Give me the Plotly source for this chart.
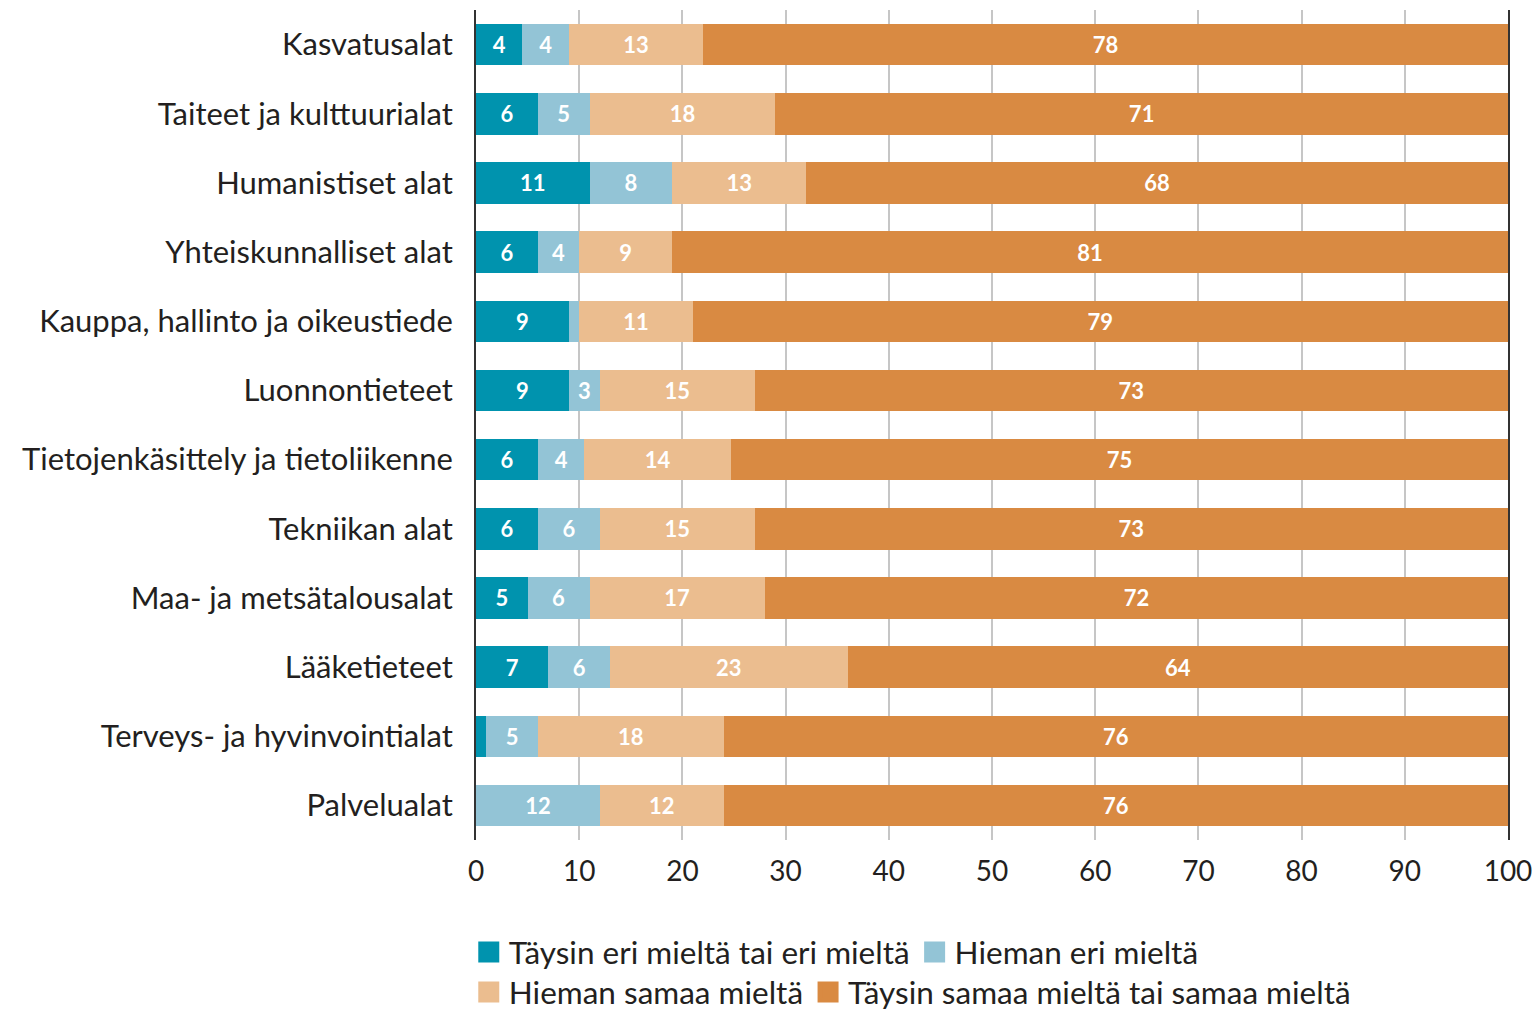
import plotly.graph_objects as go

categories = [
    "Kasvatusalat",
    "Taiteet ja kulttuurialat",
    "Humanistiset alat",
    "Yhteiskunnalliset alat",
    "Kauppa, hallinto ja oikeustiede",
    "Luonnontieteet",
    "Tietojenkäsittely ja tietoliikenne",
    "Tekniikan alat",
    "Maa- ja metsätalousalat",
    "Lääketieteet",
    "Terveys- ja hyvinvointialat",
    "Palvelualat",
]

series_names = [
    "Täysin eri mieltä tai eri mieltä",
    "Hieman eri mieltä",
    "Hieman samaa mieltä",
    "Täysin samaa mieltä tai samaa mieltä",
]

disagree = [4.5, 6, 11, 6, 9, 9, 6, 6, 5, 7, 1, 0]
slightly_disagree = [4.5, 5, 8, 4, 1, 3, 4.5, 6, 6, 6, 5, 12]
slightly_agree = [13, 18, 13, 9, 11, 15, 14.2, 15, 17, 23, 18, 12]
agree = [78, 71, 68, 81, 79, 73, 75.3, 73, 72, 64, 76, 76]

disagree_labels = ["4", "6", "11", "6", "9", "9", "6", "6", "5", "7", "", ""]
slightly_disagree_labels = ["4", "5", "8", "4", "", "3", "4", "6", "6", "6", "5", "12"]
slightly_agree_labels = ["13", "18", "13", "9", "11", "15", "14", "15", "17", "23", "18", "12"]
agree_labels = ["78", "71", "68", "81", "79", "73", "75", "73", "72", "64", "76", "76"]

colors = ["#0093ae", "#93c4d6", "#ebbd8f", "#d98a42"]
legend_ids = ["legend", "legend", "legend2", "legend2"]

FONT = "Lato"
TEXT_COLOR = "#231f20"

fig = go.Figure()
for name, vals, labels, col in zip(
    series_names,
    [disagree, slightly_disagree, slightly_agree, agree],
    [disagree_labels, slightly_disagree_labels, slightly_agree_labels, agree_labels],
    colors,
):
    fig.add_trace(go.Bar(
        y=categories, x=vals, name=name, orientation="h",
        marker=dict(color=col, line=dict(width=0)),
        text=labels, textposition="inside", insidetextanchor="middle",
        textangle=0, constraintext="none",
        textfont=dict(color="white", size=22, family=FONT, weight="bold"),
        hoverinfo="x+y+name", showlegend=False,
    ))

# legend entries (square swatches)
for name, col, lg in zip(series_names, colors, legend_ids):
    fig.add_trace(go.Scatter(
        x=[None], y=[None], mode="markers", name=name,
        marker=dict(symbol="square", size=16, color=col,
                    line=dict(color=col, width=5)),
        legend=lg, showlegend=True, hoverinfo="skip",
    ))

legend_common = dict(
    orientation="h", xanchor="left", yanchor="middle",
    xref="paper", yref="paper", traceorder="normal",
    font=dict(size=31.5, family=FONT, color=TEXT_COLOR),
    itemwidth=30, bgcolor="rgba(0,0,0,0)", borderwidth=0,
)

fig.update_layout(
    barmode="stack",
    bargap=0.4,
    width=1534, height=1011,
    margin=dict(l=476, r=26, t=10, b=171, autoexpand=False),
    plot_bgcolor="white", paper_bgcolor="white",
    font=dict(family=FONT, color=TEXT_COLOR, size=29),
    uniformtext=dict(mode="show", minsize=22),
    legend=dict(x=-0.007, y=(840 - 952) / 830, **legend_common),
    legend2=dict(x=-0.007, y=(840 - 992) / 830, **legend_common),
    showlegend=True,
)
fig.update_xaxes(
    range=[0, 100], tickvals=list(range(0, 101, 10)),
    showgrid=True, gridcolor="#c6c6c6", gridwidth=1.5,
    zeroline=False, showline=False, ticks="",
    tickfont=dict(size=28), ticklabelstandoff=12, fixedrange=True,
    automargin=False,
)
fig.update_yaxes(
    autorange="reversed", showline=True, mirror=True,
    linecolor="#333333", linewidth=2, showgrid=False, ticks="",
    tickfont=dict(size=31), ticklabelstandoff=15, fixedrange=True,
    automargin=False,
)

fig.write_html(
    "out.html",
    config={"displayModeBar": False},
    post_script="document.body.style.margin='0';document.body.style.padding='0';",
)
